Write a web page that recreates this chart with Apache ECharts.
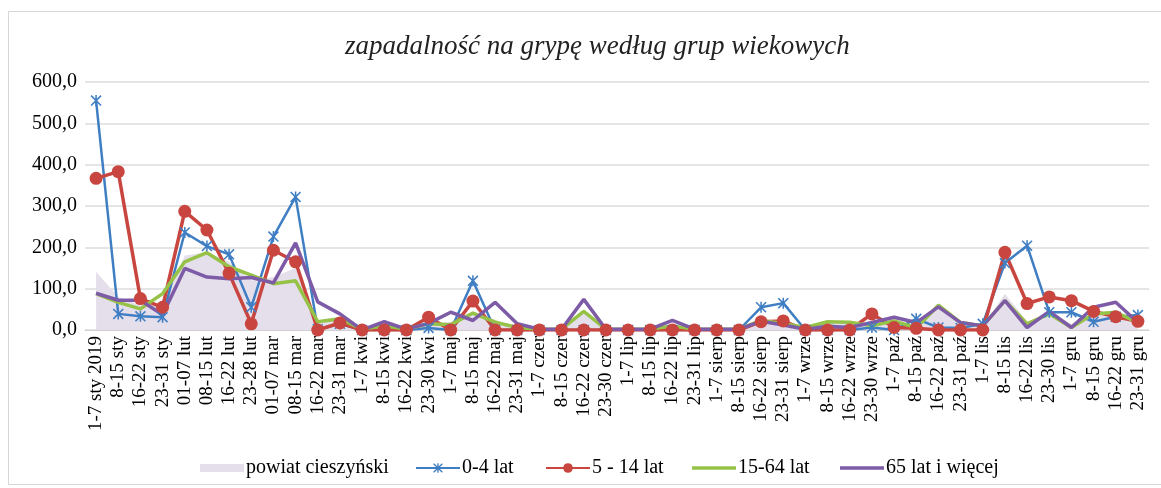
<!DOCTYPE html>
<html>
<head>
<meta charset="utf-8">
<script src="https://cdn.jsdelivr.net/npm/echarts@6/dist/echarts.min.js"></script>
<style>
html, body { margin: 0; padding: 0; background: #fff; }
#chart { width: 1161px; height: 488px; }
</style>
</head>
<body>
<div id="chart"></div>
<script>
// tygodnie 2019
var weeks = ['1-7 sty 2019', '8-15 sty', '16-22 sty', '23-31 sty', '01-07 lut', '08-15 lut', '16-22 lut', '23-28 lut',
  '01-07 mar', '08-15 mar', '16-22 mar', '23-31 mar', '1-7 kwi', '8-15 kwi', '16-22 kwi', '23-30 kwi',
  '1-7 maj', '8-15 maj', '16-22 maj', '23-31 maj', '1-7 czer', '8-15 czer', '16-22 czer', '23-30 czer',
  '1-7 lip', '8-15 lip', '16-22 lip', '23-31 lip', '1-7 sierp', '8-15 sierp', '16-22 sierp', '23-31 sierp',
  '1-7 wrze', '8-15 wrze', '16-22 wrze', '23-30 wrze', '1-7 paź', '8-15 paź', '16-22 paź', '23-31 paź',
  '1-7 lis', '8-15 lis', '16-22 lis', '23-30 lis', '1-7 gru', '8-15 gru', '16-22 gru', '23-31 gru'];

var powiat = [141, 80, 60, 60, 180, 188, 165, 120, 128, 150, 20, 25, 2, 10, 2, 15,
  20, 45, 25, 6, 2, 2, 45, 2, 2, 2, 12, 2, 2, 2, 25, 20,
  5, 18, 16, 12, 20, 10, 62, 18, 10, 88, 20, 40, 15, 40, 45, 20];
var lat0_4 = [555, 39, 33, 31, 236, 203, 183, 55, 226, 322, 2, 15, 0, 0, 0, 5,
  0, 119, 0, 0, 0, 0, 0, 0, 0, 0, 0, 0, 0, 0, 55, 65,
  0, 0, 0, 6, 0, 27, 6, 5, 15, 162, 204, 43, 43, 20, 32, 36];
var lat5_14 = [367, 383, 76, 55, 287, 242, 137, 15, 193, 165, 0, 17, 0, 0, 0, 31,
  0, 70, 0, 0, 0, 0, 0, 0, 0, 0, 0, 0, 0, 0, 20, 22,
  0, 0, 0, 39, 6, 4, 0, 0, 0, 188, 64, 80, 71, 45, 32, 21];
var lat15_64 = [88, 67, 51, 88, 165, 187, 153, 133, 112, 119, 20, 27, 2, 10, 2, 15,
  13, 41, 19, 6, 2, 2, 45, 2, 2, 2, 10, 2, 2, 2, 23, 16,
  6, 20, 19, 10, 22, 5, 60, 18, 10, 71, 15, 39, 6, 39, 43, 18];
var lat65 = [89, 72, 72, 37, 149, 128, 124, 127, 114, 211, 68, 39, 0, 20, 2, 16,
  43, 23, 67, 15, 2, 2, 74, 2, 2, 2, 23, 2, 2, 2, 21, 12,
  2, 9, 6, 18, 31, 18, 56, 18, 10, 71, 6, 45, 6, 55, 67, 18];
var yTicks = [0, 100, 200, 300, 400, 500, 600];
var names = ['powiat cieszyński', '0-4 lat', '5 - 14 lat', '15-64 lat', '65 lat i więcej'];
var legendX = [195, 410, 540, 687, 835];

var serif = '"Liberation Serif", "Times New Roman", serif';
var star = 'path://M4.3 0h1.4v10h-1.4z M0 1l1-1 9 9-1 1z M9 0l1 1-9 9-1-1z';
var bar = 'path://M0 0h40v3h-40z';

// jedna legenda na pozycje, zeby rozstawic jak w oryginale
var legends = names.map(function (n, i) {
  var item = { name: n };
  if (i === 0) { item.icon = 'rect'; }
  if (i >= 3) { item.icon = bar; }
  return {
    left: legendX[i],
    top: 453,
    itemWidth: 44,
    itemHeight: i === 0 ? 8 : 12,
    textStyle: { fontFamily: serif, fontSize: 20, color: '#000', padding: [0, 0, 0, -3] },
    data: [item]
  };
});

var myChart = echarts.init(document.getElementById('chart'), null, { renderer: 'canvas' });
var option = {
  animation: false,
  textStyle: { fontFamily: serif },
  title: {
    text: 'zapadalność na grypę według grup wiekowych',
    left: 340,
    top: 28,
    textStyle: { fontFamily: serif, fontStyle: 'italic', fontWeight: 'normal', fontSize: 27, color: '#222' }
  },
  graphic: [{
    type: 'rect',
    shape: { x: 8.5, y: 11.5, width: 1160, height: 473 },
    style: { fill: null, stroke: '#d6d6d6', lineWidth: 1 },
    silent: true
  }],
  legend: legends,
  grid: { left: 85, right: 12, top: 82, bottom: 158 },
  xAxis: {
    type: 'category',
    data: weeks,
    boundaryGap: true,
    axisLine: { lineStyle: { color: '#d0d0d0' } },
    axisTick: { show: false },
    axisLabel: { interval: 0, rotate: 90, margin: 6, fontFamily: serif, fontSize: 19, color: '#000' }
  },
  yAxis: {
    type: 'value',
    min: yTicks[0],
    max: yTicks[yTicks.length - 1],
    interval: 100,
    axisLine: { show: false },
    axisTick: { show: false },
    splitLine: { lineStyle: { color: '#dcdcdc', width: 1.5 } },
    axisLabel: {
      margin: 8, fontFamily: serif, fontSize: 20, color: '#000',
      formatter: function (v) { return v.toFixed(1).replace('.', ','); }
    }
  },
  series: [
    {
      name: names[0], type: 'line', data: powiat,
      symbol: 'none', color: '#e4dfeb',
      lineStyle: { width: 0 },
      areaStyle: { color: '#e4dfeb', opacity: 1 }
    },
    {
      name: names[1], type: 'line', data: lat0_4,
      color: '#3f7ec3', symbol: star, symbolSize: 11, showAllSymbol: true,
      lineStyle: { width: 2.5 }, itemStyle: { color: '#3f7ec3' }
    },
    {
      name: names[2], type: 'line', data: lat5_14,
      color: '#c8463f', symbol: 'circle', symbolSize: 13, showAllSymbol: true,
      lineStyle: { width: 3.5 }, itemStyle: { color: '#c8463f' }
    },
    {
      name: names[3], type: 'line', data: lat15_64,
      color: '#97c248', symbol: 'none',
      lineStyle: { width: 3.5 }
    },
    {
      name: names[4], type: 'line', data: lat65,
      color: '#7d5ba6', symbol: 'none',
      lineStyle: { width: 3.5 }
    }
  ]
};
myChart.setOption(option);
</script>
</body>
</html>
